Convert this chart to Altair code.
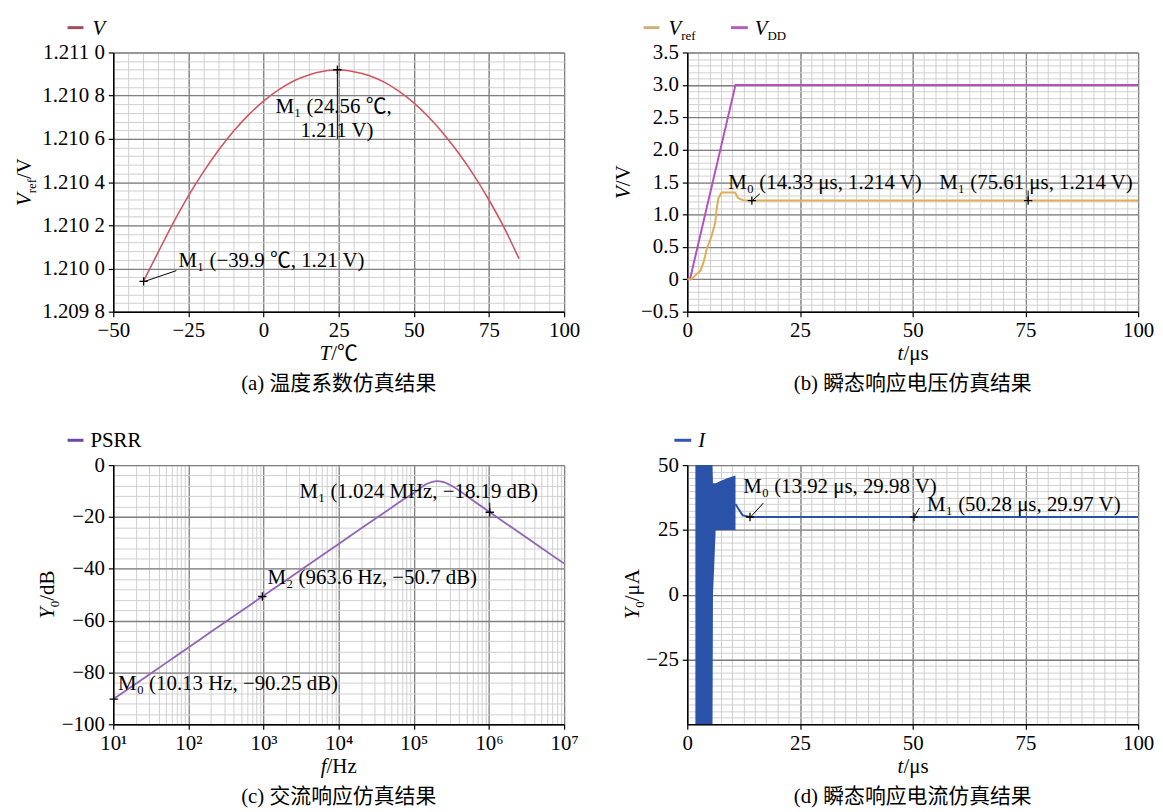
import altair as alt
import pandas as pd

FONT = "'Liberation Serif', 'Noto Sans CJK SC', serif"
FS = 21
SUB = 13
PW, PH = 454, 261
MAJOR = "#7f7f7f"
MINOR = "#d0d0d0"

# ---------------- (a) temperature coefficient ----------------
temp_c = [-40, -35, -30, -25, -20, -15, -10, -5, 0, 5, 10, 15, 20, 24.56,
          30, 35, 40, 45, 50, 55, 60, 65, 70, 75, 80, 85]
vref_temp = [1.209940, 1.210077, 1.210212, 1.210336, 1.210447, 1.210547, 1.210635,
             1.210711, 1.210775, 1.210827, 1.210868, 1.210896, 1.210913, 1.210920,
             1.210911, 1.210894, 1.210864, 1.210821, 1.210767, 1.210700, 1.210622,
             1.210532, 1.210431, 1.210317, 1.210190, 1.210045]
a_mark_x = [24.56, -39.9]
a_mark_y = [1.21092, 1.20994]
a_text = ["M\u2081 (24.56 \u2103,", "1.211 V)", "M\u2081 (\u221239.9 \u2103, 1.21 V)"]
a_text_x = [4.0, 12.3, -28.3]
a_text_y = [1.210748, 1.210638, 1.210034]
a_arr_x = [24.56, -29.0]
a_arr_y = [1.21092, 1.20999]
a_arr_x2 = [24.56, -39.6]
a_arr_y2 = [1.21060, 1.20994]

# ---------------- (b) transient voltage ----------------
t_ref = [0, 0.9, 1.8, 2.9, 3.6, 4.3, 5.4, 6.2, 6.5, 6.9, 7.6, 10.6, 11.3, 12.4, 14.33, 100]
v_ref = [0, 0, 0.06, 0.13, 0.26, 0.46, 0.67, 0.87, 1.07, 1.25, 1.34, 1.34, 1.25, 1.22, 1.214, 1.214]
t_dd = [0, 0.6, 10.7, 100]
v_dd = [0, 0, 3.0, 3.0]
b_mark_x = [14.33, 75.61]
b_mark_y = [1.214, 1.214]
b_text = ["M\u2080 (14.33 \u03bcs, 1.214 V)", "M\u2081 (75.61 \u03bcs, 1.214 V)"]
b_text_x = [9.1, 55.9]
b_text_y = [1.48, 1.48]
b_arr_x = [16.1, 75.61]
b_arr_y = [1.32, 1.37]
b_arr_x2 = [14.5, 75.61]
b_arr_y2 = [1.22, 1.214]

# ---------------- (c) AC response ----------------
freq = [10, 20, 50, 100, 200, 500, 963.6, 2000, 5000, 1e4, 2e4, 5e4, 7e4, 1e5,
        1.5e5, 2e5, 2.5e5, 3e5, 4e5, 5e5, 7e5, 1.024e6, 2e6, 5e6, 1e7]
psrr = [-90.25, -84.35, -76.4, -70.4, -64.3, -56.4, -50.7, -44.4, -36.4, -30.4,
        -24.4, -16.5, -13.6, -10.8, -7.2, -6.2, -6.6, -7.6, -9.8, -11.8, -14.8,
        -18.19, -24.0, -32.0, -38.0]
c_mark_x = [10.13, 963.6, 1.024e6]
c_mark_y = [-90.25, -50.7, -18.19]
c_text = ["M\u2080 (10.13 Hz, \u221290.25 dB)", "M\u2082 (963.6 Hz, \u221250.7 dB)",
          "M\u2081 (1.024 MHz, \u221218.19 dB)"]
c_text_x = [11.6, 1130, 3000]
c_text_y = [-84.3, -43.7, -10.3]
c_arr_x = [1.024e6]
c_arr_y = [-14.5]
c_arr_x2 = [1.024e6]
c_arr_y2 = [-18.19]

# ---------------- (d) transient current ----------------
env_t = [1.8, 5.6, 5.7, 6.0, 6.3, 7.5, 9.0, 10.7]
env_hi = [50, 50, 43, 43, 43, 44, 45, 46]
env_lo = [-50, -50, 0, 12, 25, 25, 25, 25]
cur_t = [10.7, 11.1, 12.3, 13.92, 50.28, 100]
cur_i = [35, 33.8, 30.6, 29.98, 29.97, 29.97]
d_mark_x = [13.92, 50.28]
d_mark_y = [29.98, 29.97]
d_text = ["M\u2080 (13.92 \u03bcs, 29.98 V)", "M\u2081 (50.28 \u03bcs, 29.97 V)"]
d_text_x = [12.4, 53.2]
d_text_y = [41.5, 34.7]
d_arr_x = [16.9, 51.5]
d_arr_y = [35.4, 33.5]
d_arr_x2 = [14.1, 50.4]
d_arr_y2 = [30.1, 30.1]

# ---------------- helpers ----------------
ONE = pd.DataFrame({"k": [0]})
EM_N = {**{d: .5 for d in "0123456789"}, '.': .25, ',': .25, ' ': .25, '(': .333,
        ')': .333, '/': .278, '\u2212': .564, '\u03bc': .5, 's': .389, 'H': .722,
        'z': .444, 'd': .5, 'B': .667, 'A': .722, 'V': .722, 'r': .333, 'e': .444,
        'f': .333, 'D': .722, '\u2103': 1.0, 'P': .556, 'S': .556, 'R': .667}
EM_I = {'V': .611, 'T': .556, 't': .278, 'f': .278, 'Y': .556, 'I': .333}


def tw(s, size, italic):
    tab = EM_I if italic else EM_N
    return sum(tab.get(c, EM_N.get(c, .5)) for c in s) * size


def txt(s, x, y, size=FS, style="normal", align="left", baseline="alphabetic", angle=0):
    return alt.Chart(ONE).mark_text(
        text=s, font=FONT, fontSize=size, fontStyle=style, align=align,
        baseline=baseline, angle=angle, color="black"
    ).encode(x=alt.value(x), y=alt.value(y))


def rich(parts, ax, ay, vertical=False, centered=True):
    sizes = [SUB if k == "sub" else FS for _, k in parts]
    widths = [tw(s, sz, k == "i") for (s, k), sz in zip(parts, sizes)]
    off = -sum(widths) / 2 if centered else 0
    out = []
    for (s, k), sz, w in zip(parts, sizes, widths):
        shift = 5 if k == "sub" else 0
        style = "italic" if k == "i" else "normal"
        if vertical:
            out.append(txt(s, ax + shift, ay - off, size=sz, style=style, angle=270))
        else:
            out.append(txt(s, ax + off, ay + shift, size=sz, style=style))
        off += w
    return out


def legend_line(x1, x2, y, color):
    return alt.Chart(ONE).mark_rule(color=color, strokeWidth=3).encode(
        x=alt.value(x1), x2=alt.value(x2), y=alt.value(y))


def minor_axis(orient, values):
    return alt.Axis(orient=orient, values=values, grid=True, gridColor=MINOR,
                    gridWidth=1, labels=False, ticks=False, domain=False, title=None)


def major_axis(orient, values, expr=None):
    kw = dict(orient=orient, values=values, grid=True, gridColor=MAJOR, gridWidth=1.3,
              labelFont=FONT, labelFontSize=FS, labelColor="black", labelFlush=False,
              labelOverlap=False, ticks=True, tickColor="black", tickSize=5,
              tickWidth=1.2, domain=True, domainColor="black", domainWidth=1.5,
              title=None, labelPadding=3 if orient == "bottom" else 4)
    if expr:
        kw["labelExpr"] = expr
    return alt.Axis(**kw)


def grid_layers(df, xf, yf, sx, sy, xminor, yminor, xmajor, ymajor, xexpr=None, yexpr=None):
    minor = alt.Chart(df).mark_line(opacity=0).encode(
        x=alt.X(f"{xf}:Q", scale=sx, axis=minor_axis("bottom", xminor)),
        y=alt.Y(f"{yf}:Q", scale=sy, axis=minor_axis("left", yminor)))
    major = alt.Chart(df).mark_line(opacity=0).encode(
        x=alt.X(f"{xf}:Q", scale=sx, axis=major_axis("bottom", xmajor, xexpr)),
        y=alt.Y(f"{yf}:Q", scale=sy, axis=major_axis("left", ymajor, yexpr)))
    return [minor, major]


def series(df, xf, yf, sx, sy, color, width, interp="linear"):
    return alt.Chart(df).mark_line(color=color, strokeWidth=width, interpolate=interp, clip=True).encode(
        x=alt.X(f"{xf}:Q", scale=sx, axis=None), y=alt.Y(f"{yf}:Q", scale=sy, axis=None))


def notes(sx, sy, mx, my, tx, ty, texts, ax, ay, ax2, ay2):
    mk = pd.DataFrame({"x": mx, "y": my})
    tt = pd.DataFrame({"x": tx, "y": ty, "s": texts})
    ar = pd.DataFrame({"x": ax, "y": ay, "x2": ax2, "y2": ay2})
    arrows = alt.Chart(ar).mark_rule(color="black", strokeWidth=1).encode(
        x=alt.X("x:Q", scale=sx, axis=None), y=alt.Y("y:Q", scale=sy, axis=None),
        x2="x2:Q", y2="y2:Q")
    marks = alt.Chart(mk).mark_point(shape="M-1,0L1,0M0,-1L0,1", size=70, color="black",
                                     filled=False, strokeWidth=1.3, opacity=1).encode(
        x=alt.X("x:Q", scale=sx, axis=None), y=alt.Y("y:Q", scale=sy, axis=None))
    labels = alt.Chart(tt).mark_text(font=FONT, fontSize=FS, align="left", baseline="middle",
                                     color="black").encode(
        x=alt.X("x:Q", scale=sx, axis=None), y=alt.Y("y:Q", scale=sy, axis=None), text="s:N")
    return [arrows, marks, labels]


def finish(layers):
    return alt.layer(*layers).resolve_axis(x="independent", y="independent").properties(
        width=PW, height=PH)


XT_Y = PH + 49     # baseline of x title
CAP_Y = PH + 73    # middle of caption
LEG_Y = -25

# ---------------- panel (a) ----------------
sxa = alt.Scale(domain=[-50, 100], nice=False, zero=False)
sya = alt.Scale(domain=[1.2098, 1.2110], nice=False, zero=False)
dfa = pd.DataFrame({"T": temp_c, "V": vref_temp})
pa = grid_layers(dfa, "T", "V", sxa, sya,
                 [-50 + 5 * i for i in range(31)],
                 [round(1.2098 + 0.00004 * i, 6) for i in range(31)],
                 [-50, -25, 0, 25, 50, 75, 100],
                 [round(1.2098 + 0.0002 * i, 4) for i in range(7)],
                 yexpr="substring(format(datum.value, '.4f'), 0, 5) + ' ' + substring(format(datum.value, '.4f'), 5, 6)")
pa.append(series(dfa, "T", "V", sxa, sya, "#cf5660", 1.6, "monotone"))
pa += notes(sxa, sya, a_mark_x, a_mark_y, a_text_x, a_text_y, a_text, a_arr_x, a_arr_y, a_arr_x2, a_arr_y2)
pa.append(legend_line(-46, -30, LEG_Y, "#a04d5e"))
pa += rich([("V", "i")], -21, LEG_Y + 7, centered=False)
pa += rich([("T", "i"), ("/\u2103", "n")], PW / 2, XT_Y)
pa += rich([("V", "i"), ("ref", "sub"), ("/V", "n")], -83, PH / 2, vertical=True)
pa.append(txt("(a) 温度系数仿真结果", PW / 2, CAP_Y, align="center", baseline="middle"))
# white layout anchor fixing the top-left corner of the whole figure
pa.append(alt.Chart(ONE).mark_rule(color="white", strokeWidth=1).encode(
    x=alt.value(-105), y=alt.value(-41), y2=alt.value(-20)))
chart_a = finish(pa)

# ---------------- panel (b) ----------------
sxb = alt.Scale(domain=[0, 100], nice=False, zero=False)
syb = alt.Scale(domain=[-0.5, 3.5], nice=False, zero=False)
dfb_ref = pd.DataFrame({"t": t_ref, "v": v_ref})
dfb_dd = pd.DataFrame({"t": t_dd, "v": v_dd})
pb = grid_layers(dfb_dd, "t", "v", sxb, syb,
                 [2.5 * i for i in range(41)],
                 [round(-0.5 + 0.1 * i, 2) for i in range(41)],
                 [0, 25, 50, 75, 100],
                 [-0.5, 0, 0.5, 1.0, 1.5, 2.0, 2.5, 3.0, 3.5],
                 yexpr="datum.value == 0 ? '0' : format(datum.value, '.1f')")
pb.append(series(dfb_dd, "t", "v", sxb, syb, "#b54fc2", 2))
pb.append(series(dfb_ref, "t", "v", sxb, syb, "#dfae55", 2))
pb += notes(sxb, syb, b_mark_x, b_mark_y, b_text_x, b_text_y, b_text, b_arr_x, b_arr_y, b_arr_x2, b_arr_y2)
pb.append(legend_line(-44, -28, LEG_Y, "#cdb07c"))
pb += rich([("V", "i"), ("ref", "sub")], -19, LEG_Y + 7, centered=False)
pb.append(legend_line(44, 61, LEG_Y, "#b35dbd"))
pb += rich([("V", "i"), ("DD", "sub")], 68, LEG_Y + 7, centered=False)
pb += rich([("t", "i"), ("/\u03bcs", "n")], PW / 2, XT_Y)
pb += rich([("V", "i"), ("/V", "n")], -58, PH / 2, vertical=True)
pb.append(txt("(b) 瞬态响应电压仿真结果", PW / 2, CAP_Y, align="center", baseline="middle"))
chart_b = finish(pb)

# ---------------- panel (c) ----------------
sxc = alt.Scale(type="log", domain=[10, 1e7], nice=False)
syc = alt.Scale(domain=[-100, 0], nice=False, zero=False)
dfc = pd.DataFrame({"f": freq, "db": psrr})
pc = grid_layers(dfc, "f", "db", sxc, syc,
                 [m * 10 ** k for k in range(1, 7) for m in range(2, 10)],
                 [-100 + 4 * i for i in range(26)],
                 [10 ** k for k in range(1, 8)],
                 [-100, -80, -60, -40, -20, 0],
                 xexpr="'10' + ['\u2070','\u00b9','\u00b2','\u00b3','\u2074','\u2075','\u2076','\u2077'][round(log(datum.value) / LN10)]")
pc.append(series(dfc, "f", "db", sxc, syc, "#9164b8", 1.8, "monotone"))
pc += notes(sxc, syc, c_mark_x, c_mark_y, c_text_x, c_text_y, c_text, c_arr_x, c_arr_y, c_arr_x2, c_arr_y2)
pc.append(legend_line(-46, -30, LEG_Y, "#6b4a9e"))
pc += rich([("PSRR", "n")], -23, LEG_Y + 7, centered=False)
pc += rich([("f", "i"), ("/Hz", "n")], PW / 2, XT_Y)
pc += rich([("Y", "i"), ("0", "sub"), ("/dB", "n")], -60, PH / 2, vertical=True)
pc.append(txt("(c) 交流响应仿真结果", PW / 2, CAP_Y, align="center", baseline="middle"))
chart_c = finish(pc)

# ---------------- panel (d) ----------------
sxd = alt.Scale(domain=[0, 100], nice=False, zero=False)
syd = alt.Scale(domain=[-50, 50], nice=False, zero=False)
dfd_env = pd.DataFrame({"t": env_t, "hi": env_hi, "lo": env_lo})
dfd = pd.DataFrame({"t": cur_t, "i": cur_i})
pd_ = grid_layers(dfd, "t", "i", sxd, syd,
                  [2.5 * i for i in range(41)],
                  [-50 + 2.5 * i for i in range(41)],
                  [0, 25, 50, 75, 100],
                  [-25, 0, 25, 50])
pd_.append(alt.Chart(dfd_env).mark_area(color="#2a52a8", opacity=1, clip=True).encode(
    x=alt.X("t:Q", scale=sxd, axis=None), y=alt.Y("hi:Q", scale=syd, axis=None), y2="lo:Q"))
pd_.append(series(dfd, "t", "i", sxd, syd, "#2a52a8", 2))
pd_ += notes(sxd, syd, d_mark_x, d_mark_y, d_text_x, d_text_y, d_text, d_arr_x, d_arr_y, d_arr_x2, d_arr_y2)
pd_.append(legend_line(-13, 4, LEG_Y, "#3156b0"))
pd_ += rich([("I", "i")], 11, LEG_Y + 7, centered=False)
pd_ += rich([("t", "i"), ("/\u03bcs", "n")], PW / 2, XT_Y)
pd_ += rich([("Y", "i"), ("0", "sub"), ("/\u03bcA", "n")], -49, PH / 2, vertical=True)
pd_.append(txt("(d) 瞬态响应电流仿真结果", PW / 2, CAP_Y, align="center", baseline="middle"))
chart_d = finish(pd_)

chart = alt.concat(chart_a, chart_b, chart_c, chart_d, columns=2,
                   spacing={"row": 154.5, "column": 124}, bounds="flush").properties(
    padding={"left": 0, "top": 0, "right": 0, "bottom": 0}
).configure_view(stroke="black", strokeWidth=1.5).configure(background="white")

chart.save("out.html", embed_options={"renderer": "svg", "actions": False})
